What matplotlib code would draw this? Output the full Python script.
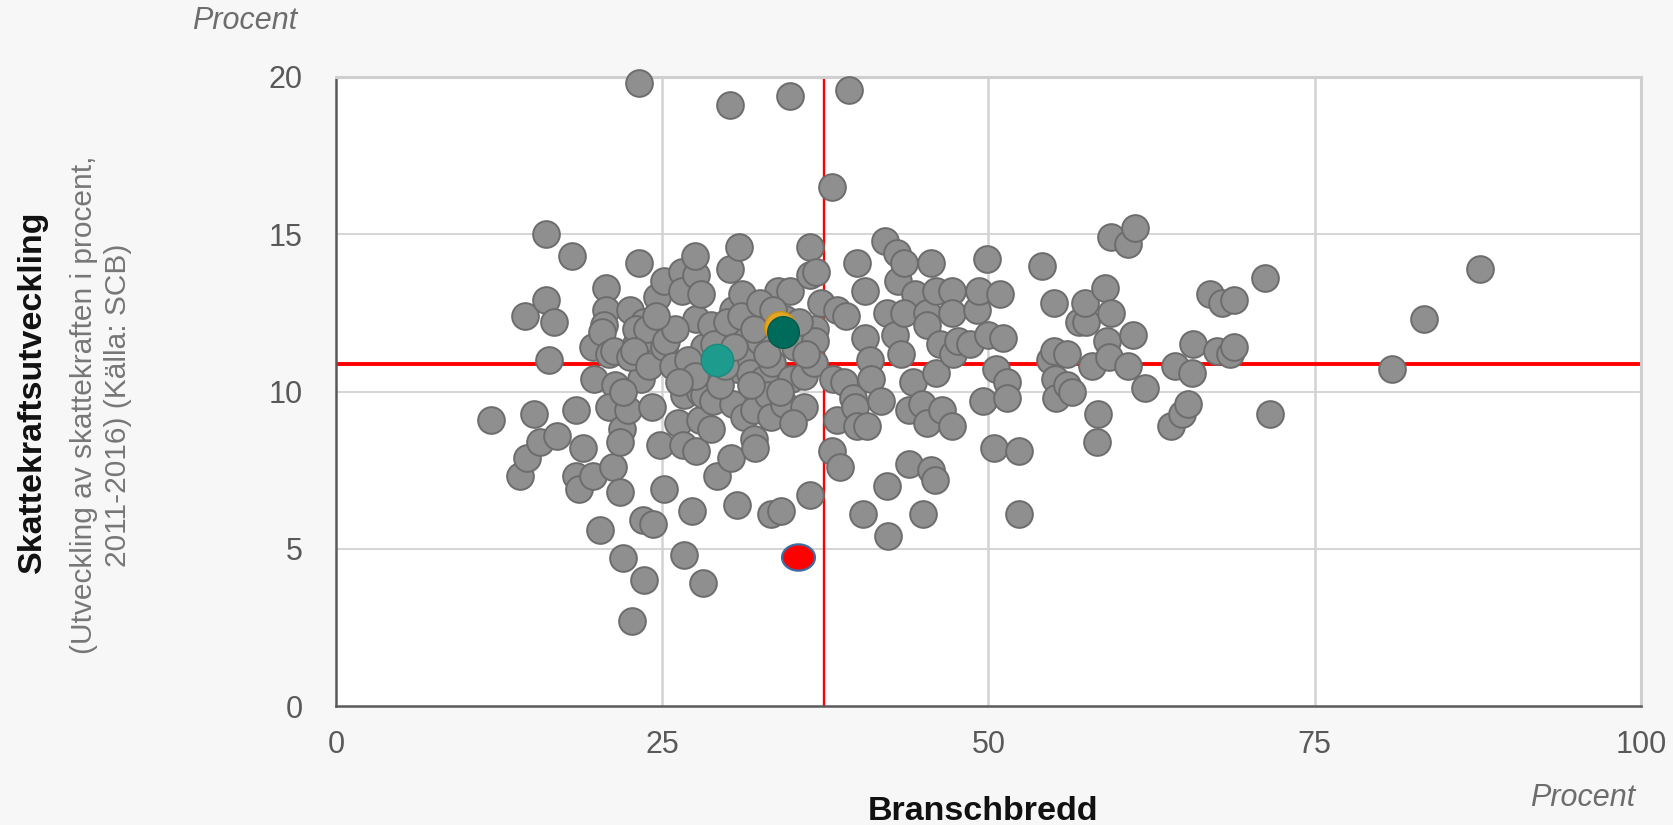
import matplotlib
matplotlib.use("Agg")
import matplotlib.pyplot as plt
import numpy as np
from matplotlib.path import Path

plt.rcParams['font.family'] = ['Liberation Sans', 'DejaVu Sans']

# ---------------- data ----------------
branschbredd = [
    11.9, 14.1, 14.6, 14.5, 15.2, 15.6, 16.1, 16.1, 16.7, 16.3,
    16.9, 18.1, 18.4, 18.9, 18.4, 18.6, 19.7, 19.7, 19.8, 20.2,
    20.7, 20.7, 20.5, 20.4, 20.9, 21.3, 21.4, 20.9, 21.2, 21.8,
    21.9, 21.8, 22.0, 22.5, 22.7, 23.2, 23.2, 23.4, 23.6, 23.5,
    24.3, 23.0, 23.3, 23.6, 23.0, 23.8, 22.5, 22.8, 22.4, 24.2,
    24.0, 24.6, 25.1, 25.1, 24.8, 25.1, 25.3, 25.8, 26.5, 26.5,
    26.2, 26.6, 26.7, 26.7, 27.3, 27.6, 27.5, 27.6, 28.0, 28.2,
    27.9, 27.9, 27.6, 28.5, 28.2, 28.9, 28.7, 28.1, 29.2, 29.5,
    28.7, 30.2, 30.2, 30.4, 30.7, 30.4, 29.4, 30.3, 30.7, 30.9,
    31.1, 31.5, 31.6, 31.7, 31.3, 32.0, 32.0, 32.1, 32.5, 32.8,
    33.1, 33.4, 33.3, 33.3, 33.9, 34.1, 34.4, 34.3, 34.9, 34.8,
    34.8, 35.2, 35.9, 35.9, 36.3, 36.3, 36.8, 36.3, 36.7, 36.7,
    36.6, 37.2, 38.0, 38.4, 38.0, 38.6, 38.4, 39.3, 39.1, 38.1,
    38.9, 39.6, 39.8, 39.9, 39.9, 40.7, 40.4, 40.5, 40.5, 40.9,
    41.0, 41.8, 42.1, 42.2, 42.3, 42.2, 43.0, 43.1, 43.5, 42.8,
    43.3, 43.9, 43.9, 44.2, 44.4, 44.9, 45.0, 43.5, 45.3, 45.3,
    45.3, 45.6, 45.9, 45.6, 46.0, 46.4, 46.0, 47.2, 47.2, 46.3,
    47.3, 47.2, 47.7, 48.6, 49.1, 49.3, 49.9, 49.6, 50.0, 50.6,
    50.4, 50.9, 51.1, 51.4, 51.4, 52.3, 52.3, 54.1, 54.7, 55.0,
    55.0, 55.1, 55.2, 56.0, 56.0, 56.4, 56.9, 57.5, 57.4, 57.9,
    58.4, 58.3, 58.9, 59.1, 59.4, 59.4, 59.2, 60.7, 61.2, 60.7,
    61.1, 62.0, 64.0, 64.3, 64.8, 65.3, 65.6, 65.7, 67.0, 67.9,
    68.8, 67.5, 68.5, 68.8, 71.2, 71.6, 80.9, 83.4, 87.7,
    27.0, 27.5, 29.0, 30.0, 31.0, 32.0, 32.5, 33.0, 33.5, 35.5,
    36.0, 31.8, 29.8, 30.5, 34.0, 35.0, 26.0, 24.5, 22.0, 26.3,
]
skattekraft = [
    9.1, 7.3, 7.9, 12.4, 9.3, 8.4, 15.0, 12.9, 12.2, 11.0,
    8.6, 14.3, 9.4, 8.2, 7.3, 6.9, 7.3, 11.4, 10.4, 5.6,
    13.3, 12.6, 12.1, 11.9, 11.2, 11.3, 10.2, 9.5, 7.6, 6.8,
    8.8, 8.4, 4.7, 12.6, 2.7, 19.8, 14.1, 10.4, 4.0, 5.9,
    5.8, 11.5, 11.6, 12.2, 12.0, 12.0, 11.1, 11.3, 9.4, 9.5,
    10.8, 13.0, 13.5, 6.9, 8.3, 11.4, 11.6, 10.8, 13.8, 13.2,
    9.0, 8.3, 4.8, 9.9, 6.2, 13.7, 14.3, 12.3, 13.1, 11.4,
    10.0, 9.1, 8.1, 10.6, 9.9, 9.7, 8.8, 3.9, 7.3, 11.8,
    12.1, 19.1, 13.9, 12.6, 10.7, 9.6, 10.2, 7.9, 6.4, 14.6,
    13.1, 11.9, 11.0, 10.6, 9.2, 9.4, 8.5, 8.2, 11.6, 10.4,
    9.9, 10.9, 6.1, 9.2, 13.2, 6.2, 12.3, 9.6, 10.4, 13.2,
    19.4, 11.4, 10.5, 9.5, 14.6, 13.7, 13.8, 6.7, 12.0, 11.6,
    10.9, 12.8, 16.5, 12.6, 8.1, 7.6, 9.1, 19.6, 12.4, 10.4,
    10.3, 9.8, 9.5, 8.9, 14.1, 8.9, 6.1, 13.2, 11.7, 11.0,
    10.4, 9.7, 14.8, 7.0, 5.4, 12.5, 14.4, 13.5, 14.1, 11.8,
    11.2, 9.4, 7.7, 10.3, 13.1, 9.6, 6.1, 12.5, 12.5, 12.1,
    9.0, 7.5, 7.2, 14.1, 10.6, 9.4, 13.2, 13.2, 12.5, 11.5,
    11.2, 8.9, 11.6, 11.5, 12.6, 13.2, 14.2, 9.7, 11.8, 10.7,
    8.2, 13.1, 11.7, 10.3, 9.8, 8.1, 6.1, 14.0, 11.0, 12.8,
    11.3, 10.4, 9.8, 11.2, 10.2, 10.0, 12.2, 12.2, 12.8, 10.8,
    9.3, 8.4, 13.3, 11.6, 14.9, 12.5, 11.1, 14.7, 15.2, 10.8,
    11.8, 10.1, 8.9, 10.8, 9.3, 9.6, 10.6, 11.5, 13.1, 12.8,
    12.9, 11.3, 11.2, 11.4, 13.6, 9.3, 10.7, 12.3, 13.9,
    11.0, 10.5, 11.5, 12.2, 12.4, 12.0, 12.8, 11.2, 12.6, 12.2,
    11.2, 10.2, 10.8, 11.4, 10.0, 9.0, 12.0, 12.4, 10.0, 10.3,
]

# highlighted municipalities
teal_x, teal_y = [29.2], [11.0]
gold_x, gold_y = [34.0], [12.05]
green_x, green_y = [34.25], [11.9]
red_x, red_y = [35.4], [4.75]

# averages (red reference lines)
avg_branschbredd = 37.4
avg_skattekraft = 10.86

x_ticks = [0, 25, 50, 75, 100]
y_ticks = [0, 5, 10, 15, 20]

# ---------------- figure ----------------
fig = plt.figure(figsize=(16.73, 8.25), dpi=100)
fig.patch.set_facecolor('#f7f7f7')
ax = fig.add_axes([336/1673, 1-706/825, (1641-336)/1673, (706-77)/825])
ax.set_facecolor('white')

ax.set_xlim(0, 100)
ax.set_ylim(0, 20)
ax.set_xticks(x_ticks)
ax.set_yticks(y_ticks)
ax.set_xticklabels([str(t) for t in x_ticks])
ax.set_yticklabels([str(t) for t in y_ticks])
ax.tick_params(axis='both', length=0, labelsize=22, colors='#595959')
ax.tick_params(axis='y', pad=24)
ax.tick_params(axis='x', pad=17)

# grid
for v in [25, 50, 75]:
    ax.axvline(v, color='#d2d2d2', lw=1.8, zorder=0.5)
for v in [5, 10, 15]:
    ax.axhline(v, color='#d2d2d2', lw=1.3, zorder=0.5)

# spines
for s in ['left', 'bottom']:
    ax.spines[s].set_color('#5a5a5a')
    ax.spines[s].set_linewidth(1.8)
for s in ['top', 'right']:
    ax.spines[s].set_color('#cfcfcf')
    ax.spines[s].set_linewidth(2.2)

# red reference lines
ax.axhline(avg_skattekraft, color='#ff0000', lw=2.8, zorder=1)
ax.axvline(avg_branschbredd, color='#ff0000', lw=1.7, zorder=1)

# points
ax.scatter(branschbredd, skattekraft, s=370, c='#8f8f8f', edgecolors='#6c6c6c',
           linewidths=1.4, zorder=3, clip_on=False)
ax.scatter(gold_x, gold_y, s=520, c='#e2a524', edgecolors='#c98f1a',
           linewidths=1.0, zorder=4)
ax.scatter(green_x, green_y, s=520, c='#006b5b', edgecolors='#005a4c',
           linewidths=1.0, zorder=5)
ax.scatter(teal_x, teal_y, s=540, c='#1d9c8e', edgecolors='#1a8a7e',
           linewidths=1.0, zorder=5)

theta = np.linspace(0, 2*np.pi, 60)
ellipse = Path(np.column_stack([np.cos(theta) * 1.25, np.sin(theta)]), closed=True)
ax.scatter(red_x, red_y, s=560, marker=ellipse, c='#ff0000', edgecolors='#3c6ea6',
           linewidths=1.6, zorder=6)

# texts
fig.text(297/1673, 1-21/825, 'Procent', ha='right', va='center', fontsize=22,
         style='italic', color='#6d6d6d')
fig.text(1635/1673, 1-798/825, 'Procent', ha='right', va='center', fontsize=22,
         style='italic', color='#6d6d6d')
fig.text(983/1673, 1-811/825, 'Branschbredd', ha='center', va='center', fontsize=24.5,
         fontweight='bold', color='#111111')
fig.text(32/1673, 1-392/825, 'Skattekraftsutveckling', ha='center', va='center',
         rotation=90, fontsize=24.5, fontweight='bold', color='#111111')
fig.text(101/1673, 1-405/825, '(Utveckling av skattekraften i procent,\n2011-2016) (Källa: SCB)',
         ha='center', va='center', rotation=90, fontsize=21.5, color='#777777',
         multialignment='center', linespacing=1.3)

fig.savefig('out.png', dpi=100, facecolor=fig.get_facecolor())
